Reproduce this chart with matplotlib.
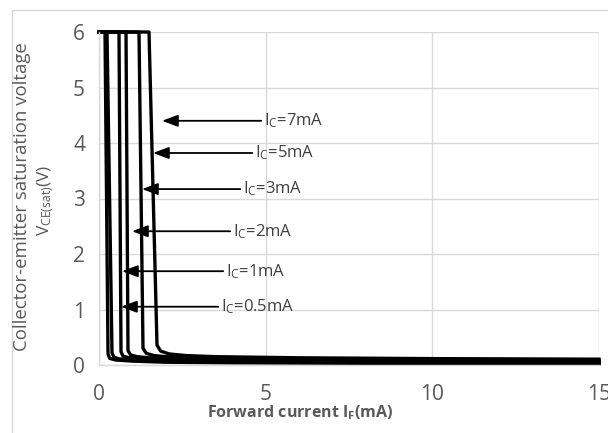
import matplotlib
matplotlib.use("Agg")
import matplotlib.pyplot as plt
from matplotlib.patches import Rectangle

plt.rcParams['font.family'] = ['Open Sans', 'DejaVu Sans']
plt.rcParams['mathtext.fontset'] = 'custom'
plt.rcParams['mathtext.rm'] = 'Open Sans'
plt.rcParams['mathtext.it'] = 'Open Sans:italic'
plt.rcParams['mathtext.bf'] = 'Open Sans:bold'

# ---- data ----
ic_labels = ["0.5mA", "1mA", "2mA", "3mA", "5mA", "7mA"]

if_05 = [0, 0.18, 0.27, 0.32, 0.5, 1, 2, 4, 8, 15]
v_05 = [6, 6, 0.20, 0.12, 0.09, 0.07, 0.05, 0.04, 0.03, 0.02]
if_1 = [0, 0.24, 0.39, 0.45, 0.6, 1, 2, 4, 8, 15]
v_1 = [6, 6, 0.22, 0.14, 0.11, 0.09, 0.07, 0.055, 0.045, 0.035]
if_2 = [0, 0.60, 0.66, 0.72, 0.9, 1.3, 2, 4, 8, 15]
v_2 = [6, 6, 0.24, 0.16, 0.13, 0.11, 0.09, 0.07, 0.06, 0.05]
if_3 = [0, 0.81, 0.87, 0.95, 1.15, 1.5, 2.5, 4, 8, 15]
v_3 = [6, 6, 0.26, 0.18, 0.15, 0.13, 0.11, 0.09, 0.075, 0.065]
if_5 = [0, 1.20, 1.32, 1.42, 1.65, 2.0, 3, 5, 9, 15]
v_5 = [6, 6, 0.30, 0.21, 0.17, 0.15, 0.13, 0.11, 0.095, 0.085]
if_7 = [0, 1.50, 1.74, 1.85, 2.1, 2.6, 3.5, 6, 10, 15]
v_7 = [6, 6, 0.36, 0.25, 0.20, 0.17, 0.15, 0.13, 0.115, 0.105]

curves_if = [if_05, if_1, if_2, if_3, if_5, if_7]
curves_v = [v_05, v_1, v_2, v_3, v_5, v_7]

# annotation: arrow tip (IF, V) and label start IF
arrow_tip_if = [0.66, 0.69, 0.99, 1.29, 1.62, 1.89]
arrow_v = [1.05, 1.69, 2.41, 3.17, 3.82, 4.40]
label_if = [3.66, 3.81, 4.02, 4.32, 4.68, 4.95]

x_ticks = [0, 5, 10, 15]
y_ticks = [0, 1, 2, 3, 4, 5, 6]

# ---- figure ----
fig = plt.figure(figsize=(6.08, 4.33), dpi=100)
ax = fig.add_axes([99/608, 1-365/433, 500/608, 333/433])

grid_c = '#d9d9d9'
txt_c = '#595959'

ax.set_xlim(0, 15)
ax.set_ylim(0, 6)
ax.set_xticks(x_ticks)
ax.set_yticks(y_ticks)
ax.grid(True, color=grid_c, lw=1.0)
ax.set_axisbelow(True)
for s in ['top', 'right']:
    ax.spines[s].set_visible(False)
for s in ['left', 'bottom']:
    ax.spines[s].set_color(grid_c)
    ax.spines[s].set_linewidth(1.0)
ax.tick_params(length=0, labelsize=15, colors=txt_c)
ax.tick_params(axis='x', pad=14)
ax.tick_params(axis='y', pad=10)

for xs, vs in zip(curves_if, curves_v):
    ax.plot(xs, vs, color='black', lw=2.4, clip_on=False, solid_joinstyle='round')

for lab, tx, tv, lx in zip(ic_labels, arrow_tip_if, arrow_v, label_if):
    ax.annotate(r'I$_\mathregular{C}$=' + lab, xy=(tx, tv), xytext=(lx, tv),
                ha='left', va='center', fontsize=12, color='#404040',
                arrowprops=dict(arrowstyle='-|>,head_length=0.8,head_width=0.3',
                                color='black', lw=1.3, shrinkA=0, shrinkB=0))

fig.text(300/608, 1-413/433, r'Forward current I$_\mathbf{F}$(mA)', ha='center', va='center',
         fontsize=11.5, fontweight='bold', color=txt_c)
fig.text(22/608, 1-197/433, 'Collector-emitter saturation voltage', ha='center', va='center',
         rotation=90, fontsize=13.4, color=txt_c)
fig.text(46/608, 1-200/433, r'V$_\mathregular{CE(sat)}$(V)', ha='center', va='center',
         rotation=90, fontsize=12.5, color=txt_c)

fig.patches.append(Rectangle((12/608, -0.1), 1.2, 0.1 + 1 - 10/433, transform=fig.transFigure,
                             fill=False, edgecolor=grid_c, lw=1.0))

fig.savefig('out.png', dpi=100)
